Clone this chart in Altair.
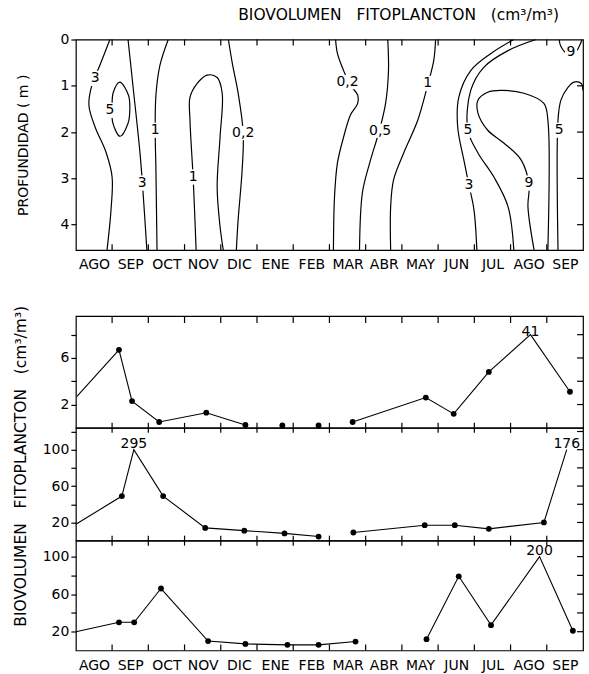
import altair as alt
import pandas as pd

FONT = "DejaVu Sans"

# ---------------- data ----------------
months = ["AGO", "SEP", "OCT", "NOV", "DIC", "ENE", "FEB",
          "MAR", "ABR", "MAY", "JUN", "JUL", "AGO", "SEP"]
month_bounds = list(range(1, 14))
depth_ticks = [0, 1, 2, 3, 4]
depth_edge_ticks = [1, 2, 3, 4]
depth_max = 4.55

# isolines of phytoplankton biovolume: (month since 1 Aug, depth m)
iso_3_ago = [(0.94, 0.0), (0.66, 0.56), (0.44, 0.99), (0.36, 1.42), (0.53, 1.89),
             (0.83, 2.43), (1.00, 2.97), (0.97, 3.68), (0.86, 4.55)]
iso_5_sep_loop = [(1.22, 0.92), (1.45, 1.20), (1.49, 1.50), (1.44, 1.81), (1.22, 2.09),
                  (1.02, 1.80), (1.00, 1.45), (1.03, 1.15)]
iso_3_sep = [(1.44, 0.0), (1.58, 1.03), (1.77, 2.45), (1.85, 3.25), (1.96, 4.55)]
iso_1_oct = [(2.55, 0.0), (2.32, 0.56), (2.21, 1.20), (2.19, 1.96), (2.21, 2.82), (2.24, 4.55)]
iso_1_nov = [(3.32, 4.55), (3.24, 3.03), (3.15, 1.74), (3.15, 1.25), (3.35, 0.95), (3.62, 0.77),
             (3.90, 0.82), (4.04, 1.16), (3.98, 2.11), (3.90, 3.18), (3.98, 4.04), (4.07, 4.55)]
iso_02_dic = [(4.21, 0.0), (4.32, 0.52), (4.48, 1.16), (4.62, 2.02), (4.59, 2.82),
              (4.48, 3.89), (4.43, 4.55)]
iso_02_mar = [(7.17, 0.0), (7.22, 0.30), (7.39, 0.67), (7.58, 0.99), (7.78, 1.20), (7.78, 1.38),
              (7.58, 1.63), (7.39, 2.11), (7.22, 2.67), (7.14, 3.40), (7.11, 4.55)]
iso_05_abr = [(8.61, 0.0), (8.63, 0.67), (8.55, 1.38), (8.38, 1.96), (8.11, 2.67),
              (7.91, 3.31), (7.83, 4.55)]
iso_1_may = [(9.93, 0.0), (9.88, 0.45), (9.71, 0.99), (9.44, 1.74), (9.05, 2.45),
             (8.77, 3.03), (8.69, 3.61), (8.69, 4.55)]
iso_3_jun = [(12.09, 0.0), (11.46, 0.30), (10.90, 0.67), (10.57, 1.25), (10.54, 1.89),
             (10.71, 2.60), (10.85, 3.14), (10.99, 3.68), (11.07, 4.55)]
iso_5_jul = [(12.70, 0.0), (11.93, 0.24), (11.26, 0.60), (10.90, 1.10), (10.82, 1.96),
             (11.10, 2.45), (11.54, 2.97), (11.93, 3.61), (12.09, 4.55)]
iso_9_ago = [(12.65, 4.55), (12.48, 3.61), (12.51, 3.14), (12.29, 2.60), (11.82, 2.24),
             (11.37, 1.96), (11.10, 1.59), (11.10, 1.31), (11.37, 1.14), (11.73, 1.10),
             (12.37, 1.16), (12.92, 1.38), (13.03, 1.74), (13.03, 4.55)]
iso_9_sep = [(13.34, 0.0), (13.39, 0.15), (13.56, 0.30), (13.78, 0.28), (13.92, 0.11), (13.97, 0.0)]
iso_5_sep = [(13.31, 4.55), (13.31, 1.74), (13.39, 1.31), (13.59, 1.03), (13.75, 0.92),
             (13.95, 0.95), (14.00, 1.10)]

contour_label_text = ["3", "5", "3", "1", "1", "0,2", "0,2", "0,5", "1", "5", "3", "9", "5", "9"]
contour_label_month = [0.53, 0.94, 1.83, 2.19, 3.24, 4.62, 7.50, 8.40, 9.71, 10.82, 10.85, 12.51, 13.34, 13.67]
contour_label_depth = [0.84, 1.53, 3.10, 1.96, 2.97, 2.02, 0.92, 1.97, 0.95, 1.96, 3.14, 3.10, 1.96, 0.26]

# lower panels: biovolume (cm3/m3) at three stations
p1_month = [0.03, 1.19, 1.55, 2.30, 3.60, 4.68, 5.70, 6.70, 7.64, 9.66, 10.43, 11.40, 12.55, 13.64]
p1_value = [2.7, 6.7, 2.3, 0.5, 1.3, 0.25, 0.2, 0.2, 0.5, 2.6, 1.2, 4.8, 41, 3.1]
p1_segment = [0, 0, 0, 0, 0, 0, 1, 2, 3, 3, 3, 3, 3, 3]
p1_dot = [0, 1, 1, 1, 1, 1, 1, 1, 1, 1, 1, 1, 0, 1]

p2_month = [0.0, 1.27, 1.60, 2.41, 3.57, 4.65, 5.76, 6.70, 7.66, 9.63, 10.46, 11.40, 12.92, 13.55]
p2_value = [18, 49, 295, 49, 14, 11, 8, 4.5, 9, 17, 17, 13, 20, 176]
p2_segment = [0, 0, 0, 0, 0, 0, 0, 0, 1, 1, 1, 1, 1, 1]
p2_dot = [0, 1, 0, 1, 1, 1, 1, 1, 1, 1, 1, 1, 1, 0]

p3_month = [0.0, 1.19, 1.61, 2.35, 3.65, 4.68, 5.84, 6.70, 7.72, 9.68, 10.57, 11.46, 12.80, 13.72]
p3_value = [20, 30, 30, 66, 10, 7, 6, 6, 9.5, 12, 79, 27, 200, 21]
p3_segment = [0, 0, 0, 0, 0, 0, 0, 0, 0, 1, 1, 1, 1, 1]
p3_dot = [0, 1, 1, 1, 1, 1, 1, 1, 1, 1, 1, 1, 0, 1]

p1_ticks, p1_labels = [2, 4, 6, 8], [2, 6]
p2_ticks, p2_labels = [20, 40, 60, 80, 100, 120], [20, 60, 100]
p3_ticks, p3_labels = [20, 40, 60, 80, 100], [20, 60, 100]

GAP = " \u00a0\u00a0"
TITLE = "BIOVOLUMEN" + GAP + "FITOPLANCTON" + GAP + "(cm³/m³)"

# ---------------- layout ----------------
W = 508
H_TOP = 211
TICK = 6

xs = alt.Scale(domain=[0, 14], nice=False, zero=False)
month_expr = "[" + ",".join("'%s'" % m for m in months) + "][floor(datum.value)]"
half_months = [i + 0.5 for i in range(14)]


def month_axis(pad):
    return alt.Axis(values=half_months, labelExpr=month_expr, ticks=False, domain=False,
                    grid=False, labelPadding=pad, title=None, labelFlush=False,
                    labelOverlap=False)


top_x_axis = month_axis(7)
ys_top = alt.Scale(domain=[0, depth_max], reverse=True, nice=False, zero=False)
top_y_axis = alt.Axis(values=depth_ticks, tickSize=5, domain=False, grid=False,
                      title="PROFUNDIDAD ( m )", titlePadding=30, labelPadding=2,
                      titleFontWeight="normal")

rows = []
open_lines = [("3a", iso_3_ago), ("3s", iso_3_sep), ("1o", iso_1_oct), ("1n", iso_1_nov),
              ("02d", iso_02_dic), ("02m", iso_02_mar), ("05a", iso_05_abr), ("1m", iso_1_may),
              ("3j", iso_3_jun), ("5j", iso_5_jul), ("9a", iso_9_ago), ("9s", iso_9_sep),
              ("5s", iso_5_sep)]
for name, pts in open_lines:
    for i, (m, d) in enumerate(pts):
        rows.append({"line": name, "seq": i, "month": m, "depth": d})
iso_df = pd.DataFrame(rows)
loop_df = pd.DataFrame([{"line": "5loop", "seq": i, "month": m, "depth": d}
                        for i, (m, d) in enumerate(iso_5_sep_loop)])
lab_df = pd.DataFrame({"label": contour_label_text, "month": contour_label_month,
                       "depth": contour_label_depth})


def X(field, axis):
    return alt.X(field, type="quantitative", scale=xs, axis=axis)


def Ytop(field):
    return alt.Y(field, type="quantitative", scale=ys_top, axis=top_y_axis)


iso_lines = alt.Chart(iso_df).mark_line(color="black", strokeWidth=1.2,
                                        interpolate="catmull-rom", clip=True).encode(
    x=X("month", top_x_axis), y=Ytop("depth"), detail="line:N", order="seq:Q")
loop_line = alt.Chart(loop_df).mark_line(color="black", strokeWidth=1.2,
                                         interpolate="cardinal-closed", clip=True).encode(
    x=X("month", top_x_axis), y=Ytop("depth"), detail="line:N", order="seq:Q")

# white boxes behind the isoline labels (path in unit box, scaled by sqrt(size))
narrow = "M-0.4,-0.5L0.4,-0.5L0.4,0.5L-0.4,0.5Z"
wide = "M-1,-0.55L1,-0.55L1,0.55L-1,0.55Z"
bg_narrow = alt.Chart(lab_df).transform_filter("length(datum.label) == 1").mark_point(
    shape=narrow, size=930, filled=True, fill="white", color="white", opacity=1,
    strokeWidth=0).encode(x=X("month", top_x_axis), y=Ytop("depth"))
bg_wide = alt.Chart(lab_df).transform_filter("length(datum.label) > 1").mark_point(
    shape=wide, size=680, filled=True, fill="white", color="white", opacity=1,
    strokeWidth=0).encode(x=X("month", top_x_axis), y=Ytop("depth"))
lab_txt = alt.Chart(lab_df).mark_text(font=FONT, fontSize=14, color="black",
                                      baseline="middle", align="center").encode(
    x=X("month", top_x_axis), y=Ytop("depth"), text="label:N")

mb_df = pd.DataFrame({"month": month_bounds})
top_ticks = alt.Chart(mb_df).mark_rule(color="black", strokeWidth=1.2).encode(
    x=X("month", top_x_axis), y=alt.value(0), y2=alt.value(TICK))
bot_ticks = alt.Chart(mb_df).mark_rule(color="black", strokeWidth=1.2).encode(
    x=X("month", top_x_axis), y=alt.value(H_TOP), y2=alt.value(H_TOP - TICK))
right_ticks = alt.Chart(pd.DataFrame({"depth": depth_edge_ticks})).mark_rule(
    color="black", strokeWidth=1.2).encode(
    y=Ytop("depth"), x=alt.value(W - TICK), x2=alt.value(W))

top = alt.layer(iso_lines, loop_line, bg_narrow, bg_wide, lab_txt,
                top_ticks, bot_ticks, right_ticks).properties(
    width=W, height=H_TOP,
    title=alt.TitleParams(TITLE, anchor="end", frame="group",
                          dx=-24, fontSize=15.5, fontWeight="normal", font=FONT, offset=9,
                          color="black"))


def panel(months_, values_, segs, dots, ticks, labels, ymax, cap, height,
          show_x=False, title=None, title_y=None, top_tick=False, base_mode="cross",
          label_dy=-6):
    df = pd.DataFrame({"month": months_, "value": values_, "segment": segs, "dot": dots})
    ys = alt.Scale(domain=[0, ymax], nice=False, zero=False)
    lab_expr = "indexof([%s], datum.value) >= 0 ? datum.label : ''" % ",".join(str(v) for v in labels)
    axis_kw = dict(values=ticks, labelExpr=lab_expr, tickSize=5, domain=False, grid=False,
                   labelPadding=2, title=title)
    if title is not None:
        axis_kw.update(titlePadding=14, titleFontWeight="normal", titleFontSize=15.5)
        if title_y is not None:
            axis_kw.update(titleY=title_y)
    yax = alt.Axis(**axis_kw)
    xax = month_axis(8) if show_x else None

    def Xp(f):
        return alt.X(f, type="quantitative", scale=xs, axis=xax)

    def Yp(f):
        return alt.Y(f, type="quantitative", scale=ys, axis=yax)

    base = alt.Chart(df).transform_calculate(shown="min(datum.value, %s)" % cap)
    line = base.mark_line(color="black", strokeWidth=1.1).encode(
        x=Xp("month"), y=Yp("shown"), detail="segment:N")
    pts = base.transform_filter("datum.dot == 1").mark_circle(
        color="black", size=34, opacity=1).encode(x=Xp("month"), y=Yp("shown"))
    peak = base.transform_filter("datum.value > %s" % cap).mark_text(
        font=FONT, fontSize=14, color="black", dy=label_dy, baseline="middle").encode(
        x=Xp("month"), y=Yp("shown"), text=alt.Text("value:Q", format="d"))
    layers = [line, pts, peak]
    mdf = pd.DataFrame({"month": month_bounds})
    if base_mode == "cross":
        layers.append(alt.Chart(mdf).mark_rule(color="black", strokeWidth=1.2).encode(
            x=Xp("month"), y=alt.value(height - 5), y2=alt.value(height + 5)))
    else:
        layers.append(alt.Chart(mdf).mark_rule(color="black", strokeWidth=1.2).encode(
            x=Xp("month"), y=alt.value(height - 6), y2=alt.value(height)))
    if top_tick:
        layers.append(alt.Chart(mdf).mark_rule(color="black", strokeWidth=1.2).encode(
            x=Xp("month"), y=alt.value(0), y2=alt.value(7)))
    layers.append(alt.Chart(pd.DataFrame({"v": ticks})).mark_rule(
        color="black", strokeWidth=1.2).encode(
        y=Yp("v"), x=alt.value(W - 6), x2=alt.value(W)))
    return alt.layer(*layers).properties(width=W, height=height)


p1 = panel(p1_month, p1_value, p1_segment, p1_dot, p1_ticks, p1_labels,
           9.6, 8.0, 112, top_tick=True, label_dy=-3)
p2 = panel(p2_month, p2_value, p2_segment, p2_dot, p2_ticks, p2_labels,
           124, 100, 113, title=TITLE, title_y=38)
p3 = panel(p3_month, p3_value, p3_segment, p3_dot, p3_ticks, p3_labels,
           117, 100, 110, show_x=True, base_mode="up")

bottom = alt.vconcat(p1, p2, p3, spacing=0, bounds="flush")

chart = alt.vconcat(top, bottom, spacing=66, bounds="flush").properties(
    padding={"left": 12, "right": 4, "top": 6, "bottom": 2}
).configure_view(stroke="black", strokeWidth=1.2).configure_axis(
    labelFont=FONT, titleFont=FONT, labelFontSize=14, titleFontSize=14,
    labelColor="black", titleColor="black", tickColor="black", tickWidth=1.2
).configure_title(font=FONT)

chart.save("out.html", embed_options={"renderer": "svg", "actions": False})
